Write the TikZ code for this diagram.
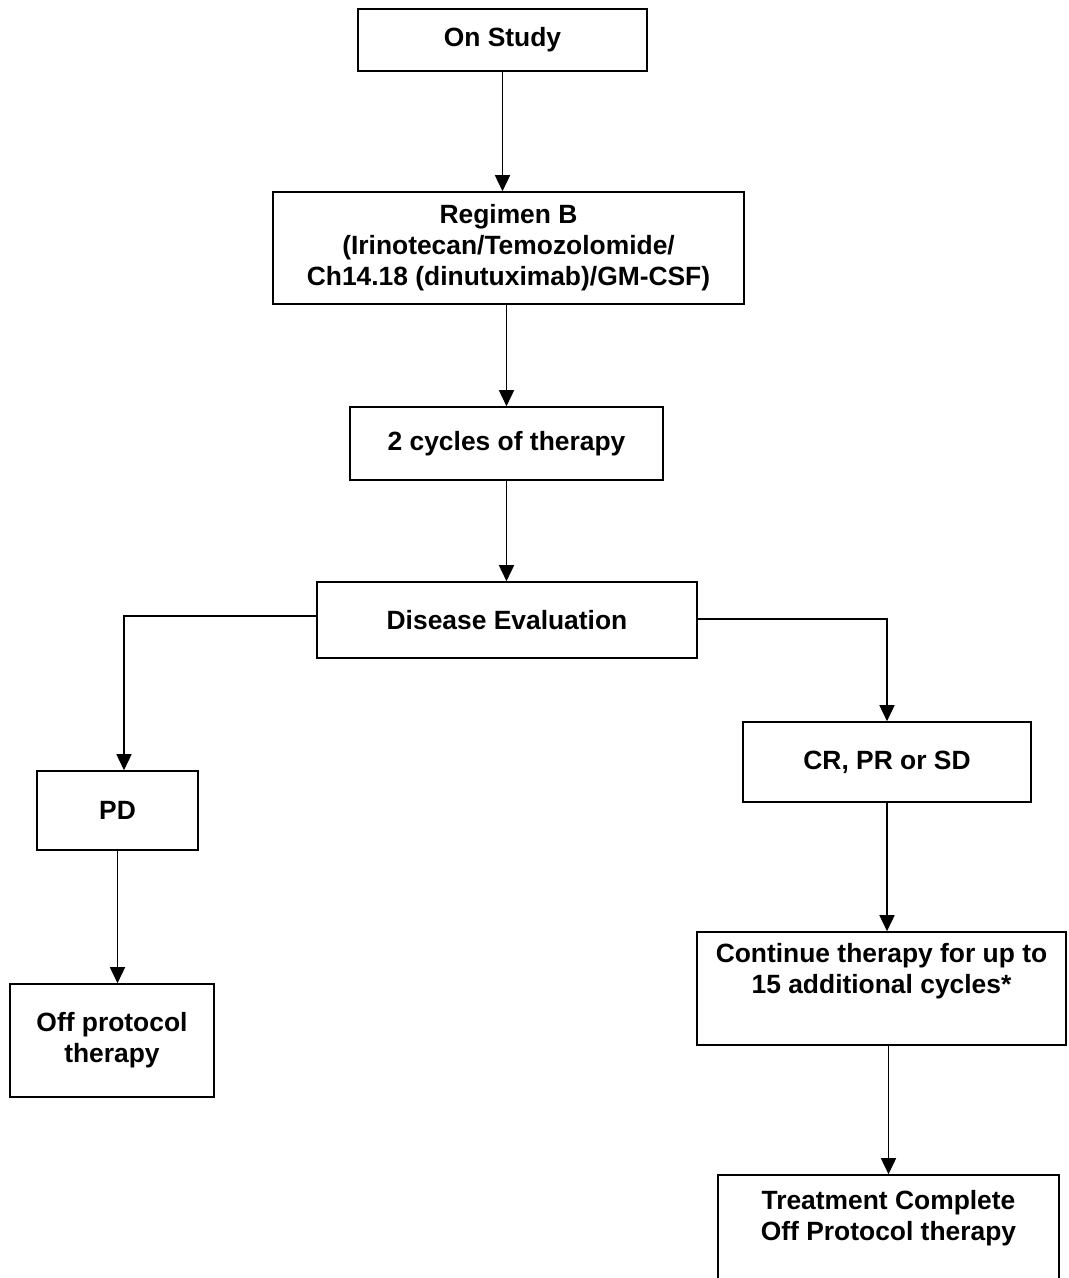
\documentclass[tikz,border=0pt]{standalone}
\usepackage{fontspec}
\setmainfont{Liberation Sans}
\usetikzlibrary{arrows.meta}
\begin{document}
\begin{tikzpicture}[x=1pt,y=-1pt,
  box/.style={draw, line width=1.6pt, inner sep=0pt, align=center,
    font=\bfseries\fontsize{26.4}{31}\selectfont},
  txt/.style={inner sep=0pt, align=center, font=\bfseries\fontsize{26.4}{31}\selectfont},
  arr/.style={line width=1.6pt, -{Triangle[width=15pt,length=16pt]}}]
\useasboundingbox (0,0) rectangle (1069,1278);
\clip (0,0) rectangle (1069,1278);
\node[box, minimum width=289pt, minimum height=62pt] (os) at (502.5,40) {On Study};
\node[box, minimum width=471pt, minimum height=112pt] (rb) at (508.5,248) {Regimen B\\(Irinotecan/Temozolomide/\\Ch14.18 (dinutuximab)/GM-CSF)};
\node[box, minimum width=313pt, minimum height=73pt] (cy) at (506.5,443.5) {2 cycles of therapy};
\node[box, minimum width=380pt, minimum height=76pt] (de) at (507,620) {Disease Evaluation};
\node[box, minimum width=161pt, minimum height=79pt] (pd) at (117.5,810.5) {PD};
\node[box, minimum width=288pt, minimum height=80pt] (cr) at (887,762) {CR, PR or SD};
\node[box, minimum width=204pt, minimum height=113pt] (off) at (112,1040.5) {Off protocol\\therapy};
\node[box, minimum width=369pt, minimum height=113pt] (co) at (881.5,988.5) {};
\node[txt] (cotxt) at (881.5,971) {Continue therapy for up to\\15 additional cycles*};
\node[box, minimum width=341pt, minimum height=115pt] (tc) at (888.5,1232.5) {};
\node[txt] (tctxt) at (888.5,1218) {Treatment Complete\\Off Protocol therapy};
\draw[arr] (os.south) -- (os.south |- rb.north);
\draw[arr] (cy.north |- rb.south) -- (cy.north);
\draw[arr] (cy.south) -- (cy.south |- de.north);
\draw[arr] ([yshift=4pt]de.west) -| ([xshift=6.5pt]pd.north);
\draw[arr] ([yshift=1pt]de.east) -| (cr.north);
\draw[arr] (pd.south) -- (pd.south |- off.north);
\draw[arr] (cr.south) -- (cr.south |- co.north);
\draw[arr] (tc.north |- co.south) -- (tc.north);
\end{tikzpicture}
\end{document}
